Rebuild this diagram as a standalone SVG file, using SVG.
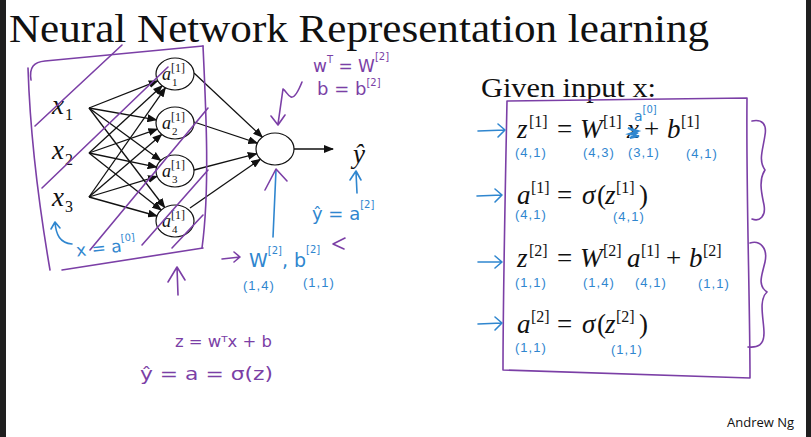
<svg xmlns="http://www.w3.org/2000/svg" width="811" height="437" viewBox="0 0 811 437">
<style>
.t{font-family:"Liberation Serif",serif;fill:#111}
.m{font-family:"Liberation Serif",serif;font-style:italic;font-size:27px;fill:#111}
.mo{font-family:"Liberation Serif",serif;font-size:27px;fill:#111}
.ms{font-family:"Liberation Serif",serif;font-size:16px;fill:#111}
.nd{fill:#fff;stroke:#111;stroke-width:1.2}
.na{font-family:"Liberation Serif",serif;font-style:italic;font-size:18px;fill:#111}
.nsup{font-family:"Liberation Serif",serif;font-size:12px;fill:#111}
.nsub{font-family:"Liberation Serif",serif;font-size:11px;fill:#111}
.e{stroke:#111;stroke-width:1.3;fill:none;marker-end:url(#ah)}
.pp{stroke:#7b3fa6;stroke-width:1.6;fill:none;stroke-linecap:round;stroke-linejoin:round}
.bp{stroke:#2f86cf;stroke-width:1.6;fill:none;stroke-linecap:round;stroke-linejoin:round}
.ph{font-family:"DejaVu Sans",sans-serif;fill:#7b3fa6}
.bh{font-family:"DejaVu Sans",sans-serif;fill:#2f86cf}
.dim{font-family:"Liberation Sans",sans-serif;font-size:13px;fill:#2f86cf;letter-spacing:1px}
</style>
<defs>
<marker id="ah" markerWidth="10" markerHeight="8" refX="9" refY="4" orient="auto" markerUnits="userSpaceOnUse">
<path d="M0,0 L10,4 L0,8 Z" fill="#111"/>
</marker>
</defs>
<rect x="0" y="0" width="811" height="437" fill="#fff"/>
<rect x="0" y="0" width="6" height="437" fill="#1f1f1f"/>
<rect x="806" y="0" width="5" height="437" fill="#1f1f1f"/>

<text id="title" class="t" x="9" y="42" font-size="40" textLength="700" lengthAdjust="spacingAndGlyphs">Neural Network Representation learning</text>

<g id="connectors">
<path class="e" d="M89,108 L157.8,80.8"/>
<path class="e" d="M89,108 L156.4,119.8"/>
<path class="e" d="M89,108 L160.7,160.5"/>
<path class="e" d="M89,108 L164.7,207.5"/>
<path class="e" d="M89,153 L162.2,85.8"/>
<path class="e" d="M89,153 L157.4,129.1"/>
<path class="e" d="M89,153 L156.6,167.1"/>
<path class="e" d="M89,153 L161.2,210.1"/>
<path class="e" d="M89,197 L165.4,87.8"/>
<path class="e" d="M89,197 L161.7,134.4"/>
<path class="e" d="M89,197 L157.1,176.4"/>
<path class="e" d="M89,197 L157,216"/>
<path class="e" d="M194,73 L262.3,137.1"/>
<path class="e" d="M194,122 L257.3,143.1"/>
<path class="e" d="M194,170 L256.8,153.7"/>
<path class="e" d="M190,208 L260.3,159.2"/>
<path class="e" d="M294,149 L333,149"/>
</g>

<g id="x1"><text class="m" x="52" y="114">x</text><text class="ms" x="65" y="120">1</text></g>
<g id="x2"><text class="m" x="52" y="159">x</text><text class="ms" x="65" y="165">2</text></g>
<g id="x3"><text class="m" x="52" y="206">x</text><text class="ms" x="65" y="212">3</text></g>

<g id="a1"><ellipse class="nd" cx="175" cy="74" rx="19" ry="16"/><text class="na" x="162" y="80">a</text><text class="nsup" x="171" y="72">[1]</text><text class="nsub" x="172" y="86">1</text></g>
<g id="a2"><ellipse class="nd" cx="175" cy="123" rx="19" ry="16"/><text class="na" x="162" y="129">a</text><text class="nsup" x="171" y="121">[1]</text><text class="nsub" x="172" y="135">2</text></g>
<g id="a3"><ellipse class="nd" cx="175" cy="171" rx="19" ry="16"/><text class="na" x="162" y="177">a</text><text class="nsup" x="171" y="169">[1]</text><text class="nsub" x="172" y="183">3</text></g>
<g id="a4"><ellipse class="nd" cx="175" cy="221" rx="19" ry="16"/><text class="na" x="162" y="227">a</text><text class="nsup" x="171" y="219">[1]</text><text class="nsub" x="172" y="233">4</text></g>
<g id="out"><ellipse class="nd" cx="275" cy="149" rx="19" ry="16"/></g>
<g id="yhat"><text class="m" x="353" y="163">ŷ</text></g>

<g id="left-annotations">
<path class="pp" d="M31,80 C29,67 34,62 45,61 L203,46"/>
<path class="pp" d="M203,46 C206,110 210,190 202,248"/>
<path class="pp" d="M28,68 C30,130 38,200 50,270"/>
<path class="pp" d="M62,270 L203,248"/>
<path class="pp" d="M35,126 L122,45"/>
<path class="pp" d="M42,188 L168,67"/>
<path class="pp" d="M90,250 L208,108"/>
<path class="pp" d="M142,245 L208,170"/>
<path class="pp" d="M172,248 L203,215"/>
<path class="bp" d="M51,229 L55,222 L60,228 M55,222 C56,235 60,243 72,244"/>
<text class="bh" x="76" y="254" font-size="17" transform="rotate(-6 100 248)">x = a<tspan font-size="10" dy="-10">[0]</tspan></text>
<path class="pp" d="M178,295 L177,267 M168,282 L177,267 L185,280"/>
<text class="ph" x="175" y="347" font-size="16" textLength="97" lengthAdjust="spacingAndGlyphs">z = wᵀx + b</text>
<text class="ph" x="140" y="380" font-size="18" textLength="133" lengthAdjust="spacingAndGlyphs">ŷ = a = σ(z)</text>
</g>

<g id="mid-annotations">
<text class="ph" x="313" y="72" font-size="17">w<tspan font-size="10" dy="-9">T</tspan><tspan dy="9"> = W</tspan><tspan font-size="10" dy="-12">[2]</tspan></text>
<text class="ph" x="317" y="95" font-size="18">b = b<tspan font-size="10" dy="-9">[2]</tspan></text>
<path class="pp" d="M302,82 C298,92 294,98 291,97 C288,96 286,91 283,89 L278,124 M271,116 L278,125 L285,115"/>
<path class="bp" d="M273,237 L276,170"/>
<path class="pp" d="M265,190 L276,169 L287,181"/>
<path class="bp" d="M357,193 L356,172 M350,180 L356,171 L361,180"/>
<text class="bh" x="312" y="220" font-size="18">ŷ = a<tspan font-size="10" dy="-12">[2]</tspan></text>
<path class="pp" d="M222,259 L240,257 M234,252 L240,257 L234,262"/>
<text class="bh" x="249" y="267" font-size="19">W<tspan font-size="10" dy="-13">[2]</tspan><tspan dy="13">, b</tspan><tspan font-size="10" dy="-14">[2]</tspan></text>
<path class="pp" d="M345,238 L333,244 L344,249"/>
<text class="dim" x="243" y="290">(1,4)</text>
<text class="dim" x="303" y="287">(1,1)</text>
</g>

<g id="right-panel">
<text class="t" x="481" y="97" font-size="28" textLength="175" lengthAdjust="spacingAndGlyphs">Given input x:</text>
<path class="pp" d="M507,101 L747,98 M747,98 C746,190 750,300 750,378 M507,101 C505,200 503,300 503,370 L750,378"/>
<path class="pp" d="M752,121 C762,119 767,124 765,135 C763,150 758,160 765,170 C758,180 762,195 764,205 C766,216 760,222 752,219"/>
<path class="pp" d="M750,243 C760,240 768,248 765,262 C762,275 757,285 767,292 C758,300 764,320 764,333 C764,345 758,348 748,347"/>
<path class="bp" d="M478,131 L505,130 M498,124 L505,130 L498,137"/>
<path class="bp" d="M477,196 L502,195 M495,189 L502,195 L495,202"/>
<path class="bp" d="M478,262 L502,262 M495,256 L502,262 L495,268"/>
<path class="bp" d="M478,324 L502,323 M495,317 L502,323 L495,330"/>

<g id="eq1">
<text class="m" x="517" y="138">z</text><text class="ms" x="529" y="127">[1]</text>
<text class="mo" x="557" y="138">=</text>
<text class="m" x="580" y="138">W</text><text class="ms" x="603" y="127">[1]</text>
<text class="m" x="627" y="138">x</text>
<path d="M628,128 L638,131 L629,134 L639,136 L630,138 L637,133 Z" fill="#2f86cf" stroke="#2f86cf" stroke-width="2"/>
<text class="bh" x="634" y="121" font-size="14">a<tspan font-size="10" dy="-8">[0]</tspan></text>
<text class="mo" x="644" y="138">+</text>
<text class="m" x="667" y="138">b</text><text class="ms" x="681" y="127">[1]</text>
<text class="dim" x="515" y="157">(4,1)</text>
<text class="dim" x="583" y="157">(4,3)</text>
<text class="dim" x="628" y="157">(3,1)</text>
<text class="dim" x="686" y="158">(4,1)</text>
</g>
<g id="eq2">
<text class="m" x="517" y="204">a</text><text class="ms" x="531" y="193">[1]</text>
<text class="mo" x="557" y="204">=</text>
<text class="m" x="582" y="204">σ</text><text class="mo" x="597" y="204">(</text>
<text class="m" x="605" y="204">z</text><text class="ms" x="616" y="193">[1]</text><text class="mo" x="639" y="204">)</text>
<text class="dim" x="515" y="219">(4,1)</text>
<text class="dim" x="613" y="221">(4,1)</text>
</g>
<g id="eq3">
<text class="m" x="517" y="267">z</text><text class="ms" x="529" y="256">[2]</text>
<text class="mo" x="557" y="267">=</text>
<text class="m" x="580" y="267">W</text><text class="ms" x="603" y="256">[2]</text>
<text class="m" x="627" y="267">a</text><text class="ms" x="641" y="256">[1]</text>
<text class="mo" x="666" y="267">+</text>
<text class="m" x="689" y="267">b</text><text class="ms" x="703" y="256">[2]</text>
<text class="dim" x="515" y="287">(1,1)</text>
<text class="dim" x="583" y="287">(1,4)</text>
<text class="dim" x="635" y="287">(4,1)</text>
<text class="dim" x="698" y="288">(1,1)</text>
</g>
<g id="eq4">
<text class="m" x="517" y="333">a</text><text class="ms" x="531" y="322">[2]</text>
<text class="mo" x="557" y="333">=</text>
<text class="m" x="582" y="333">σ</text><text class="mo" x="597" y="333">(</text>
<text class="m" x="605" y="333">z</text><text class="ms" x="616" y="322">[2]</text><text class="mo" x="639" y="333">)</text>
<text class="dim" x="515" y="352">(1,1)</text>
<text class="dim" x="611" y="354">(1,1)</text>
</g>
</g>

<text id="credit" x="727" y="427" font-family="Open Sans, Liberation Sans, sans-serif" font-size="13" fill="#111">Andrew Ng</text>
</svg>
